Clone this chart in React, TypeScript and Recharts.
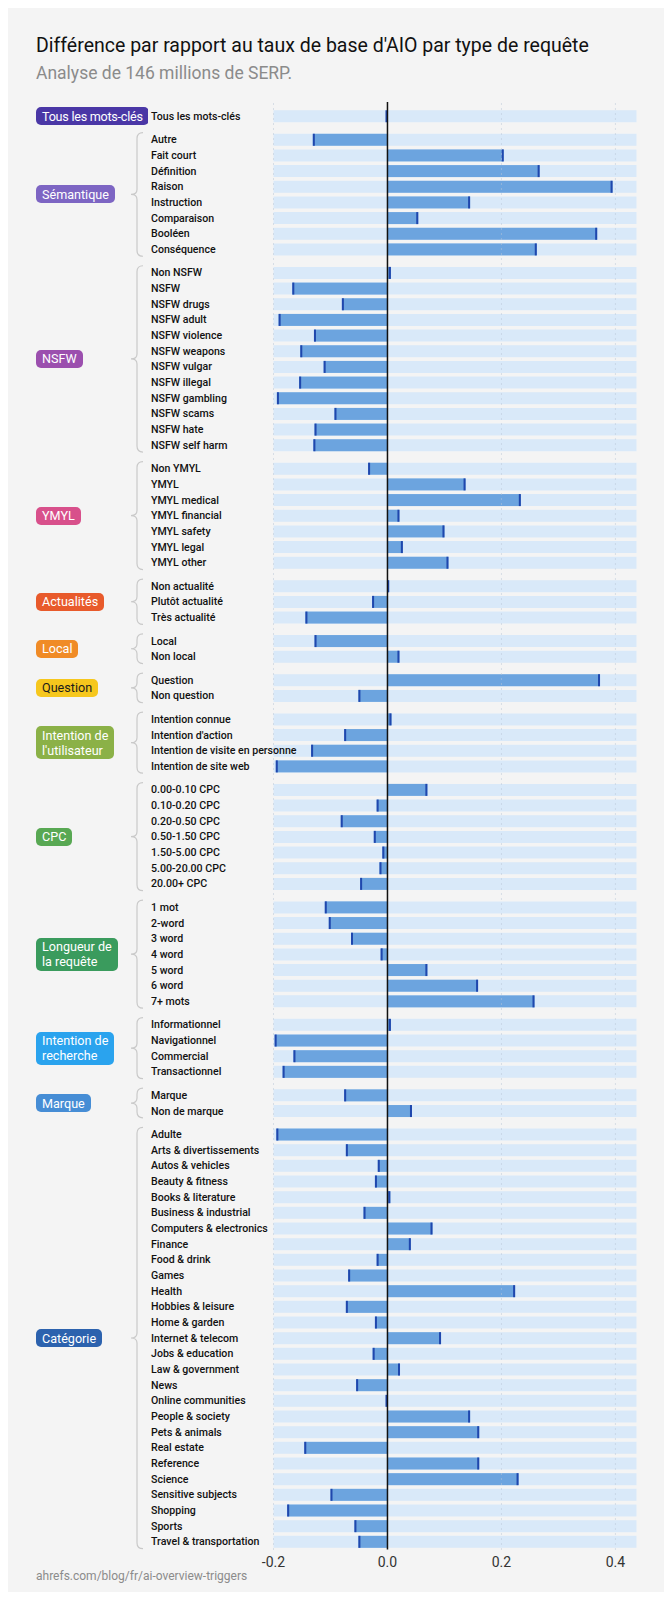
import React from 'react';
import { BarChart, Bar, XAxis, YAxis, ReferenceLine } from 'recharts';

// Row labels and values, one pair of arrays per query group
const ALL_LABELS = ['Tous les mots-clés'];
const ALL_VALUES = [0];

const SEMANTIC_LABELS = ['Autre', 'Fait court', 'Définition', 'Raison', 'Instruction', 'Comparaison', 'Booléen', 'Conséquence'];
const SEMANTIC_VALUES = [-0.131, 0.204, 0.267, 0.395, 0.145, 0.054, 0.368, 0.262];

const NSFW_LABELS = ['Non NSFW', 'NSFW', 'NSFW drugs', 'NSFW adult', 'NSFW violence', 'NSFW weapons', 'NSFW vulgar', 'NSFW illegal', 'NSFW gambling', 'NSFW scams', 'NSFW hate', 'NSFW self harm'];
const NSFW_VALUES = [0.006, -0.167, -0.08, -0.191, -0.129, -0.153, -0.112, -0.155, -0.194, -0.093, -0.128, -0.13];

const YMYL_LABELS = ['Non YMYL', 'YMYL', 'YMYL medical', 'YMYL financial', 'YMYL safety', 'YMYL legal', 'YMYL other'];
const YMYL_VALUES = [-0.034, 0.137, 0.234, 0.021, 0.1, 0.027, 0.107];

const NEWS_LABELS = ['Non actualité', 'Plutôt actualité', 'Très actualité'];
const NEWS_VALUES = [0.003, -0.027, -0.144];

const LOCAL_LABELS = ['Local', 'Non local'];
const LOCAL_VALUES = [-0.128, 0.021];

const QUESTION_LABELS = ['Question', 'Non question'];
const QUESTION_VALUES = [0.373, -0.051];

const USER_INTENT_LABELS = ['Intention connue', "Intention d'action", 'Intention de visite en personne', 'Intention de site web'];
const USER_INTENT_VALUES = [0.007, -0.076, -0.134, -0.196];

const CPC_LABELS = ['0.00-0.10 CPC', '0.10-0.20 CPC', '0.20-0.50 CPC', '0.50-1.50 CPC', '1.50-5.00 CPC', '5.00-20.00 CPC', '20.00+ CPC'];
const CPC_VALUES = [0.07, -0.019, -0.082, -0.024, -0.009, -0.014, -0.048];

const LENGTH_LABELS = ['1 mot', '2-word', '3 word', '4 word', '5 word', '6 word', '7+ mots'];
const LENGTH_VALUES = [-0.11, -0.103, -0.064, -0.012, 0.07, 0.159, 0.258];

const SEARCH_INTENT_LABELS = ['Informationnel', 'Navigationnel', 'Commercial', 'Transactionnel'];
const SEARCH_INTENT_VALUES = [0.006, -0.198, -0.165, -0.184];

const BRAND_LABELS = ['Marque', 'Non de marque'];
const BRAND_VALUES = [-0.076, 0.043];

const CATEGORY_LABELS = [
  'Adulte', 'Arts & divertissements', 'Autos & vehicles', 'Beauty & fitness', 'Books & literature',
  'Business & industrial', 'Computers & electronics', 'Finance', 'Food & drink', 'Games', 'Health',
  'Hobbies & leisure', 'Home & garden', 'Internet & telecom', 'Jobs & education', 'Law & government',
  'News', 'Online communities', 'People & society', 'Pets & animals', 'Real estate', 'Reference',
  'Science', 'Sensitive subjects', 'Shopping', 'Sports', 'Travel & transportation',
];
const CATEGORY_VALUES = [
  -0.195, -0.073, -0.017, -0.022, 0.005,
  -0.042, 0.079, 0.041, -0.019, -0.069, 0.224,
  -0.073, -0.022, 0.094, -0.026, 0.022,
  -0.055, 0, 0.145, 0.161, -0.146, 0.161,
  0.23, -0.1, -0.176, -0.058, -0.051,
];

const X_TICKS = [-0.2, 0, 0.2, 0.4];

const GROUPS = [
  { name: ['Tous les mots-clés'], color: '#4a37a6', text: '#fff', labels: ALL_LABELS, values: ALL_VALUES },
  { name: ['Sémantique'], color: '#7d65c3', text: '#fff', labels: SEMANTIC_LABELS, values: SEMANTIC_VALUES },
  { name: ['NSFW'], color: '#9b4fae', text: '#fff', labels: NSFW_LABELS, values: NSFW_VALUES },
  { name: ['YMYL'], color: '#d8508b', text: '#fff', labels: YMYL_LABELS, values: YMYL_VALUES },
  { name: ['Actualités'], color: '#e85a2b', text: '#fff', labels: NEWS_LABELS, values: NEWS_VALUES },
  { name: ['Local'], color: '#f08b26', text: '#fff', labels: LOCAL_LABELS, values: LOCAL_VALUES },
  { name: ['Question'], color: '#f6c71d', text: '#1b1b1b', labels: QUESTION_LABELS, values: QUESTION_VALUES },
  { name: ['Intention de', "l'utilisateur"], color: '#8bb147', text: '#fff', labels: USER_INTENT_LABELS, values: USER_INTENT_VALUES },
  { name: ['CPC'], color: '#58a853', text: '#fff', labels: CPC_LABELS, values: CPC_VALUES },
  { name: ['Longueur de', 'la requête'], color: '#3a9b5d', text: '#fff', labels: LENGTH_LABELS, values: LENGTH_VALUES },
  { name: ['Intention de', 'recherche'], color: '#2aa3ee', text: '#fff', labels: SEARCH_INTENT_LABELS, values: SEARCH_INTENT_VALUES },
  { name: ['Marque'], color: '#468dd5', text: '#fff', labels: BRAND_LABELS, values: BRAND_VALUES },
  { name: ['Catégorie'], color: '#2c62ae', text: '#fff', labels: CATEGORY_LABELS, values: CATEGORY_VALUES },
];

// each group is followed by a half-row gap, rows are placed on a numeric axis
type Row = { pos: number; label: string; value: number; group: number; first: boolean };
const rows: Row[] = [];
let rowIndex = 0;
GROUPS.forEach((g, gi) => {
  g.labels.forEach((label, i) => {
    rows.push({ pos: rowIndex + gi * 0.5, label, value: g.values[i], group: gi, first: i === 0 });
    rowIndex += 1;
  });
});
const ROW_BY_POS = new Map(rows.map((r) => [r.pos, r]));

const FONT = 'Roboto, "Noto Sans", sans-serif';
const WIDTH = 672;
const HEIGHT = 1600;
const Y_MIN = -0.9;
const Y_MAX = 91.5;
const MARGIN = { top: 102, right: 35.5, bottom: 20.5, left: 0 };
const X_AXIS_H = 30;
const PLOT_H = HEIGHT - MARGIN.top - MARGIN.bottom - X_AXIS_H;
const ROW_PX = PLOT_H / (Y_MAX - Y_MIN);

const BAND = '#d9e9f9';
const BAR = '#6ca4df';
const CAP = '#1f47ad';

function CappedBar(props: any) {
  const { x, y, width, height, payload } = props;
  const x0 = Math.min(x, x + width);
  const w = Math.abs(width);
  const end = payload.value >= 0 ? x0 + w - 2 : x0;
  return (
    <g>
      <rect x={x0} y={y} width={w} height={height} fill={BAR} />
      <rect x={end} y={y} width={2} height={height} fill={CAP} />
    </g>
  );
}

function RowTick(props: any) {
  const { y, payload } = props;
  const row = ROW_BY_POS.get(payload.value);
  if (!row) return null;
  const g = GROUPS[row.group];
  const n = g.labels.length;
  const lastY = y + (n - 1) * ROW_PX;
  const mid = (y + lastY) / 2;
  const top = y - 7;
  const bottom = lastY + 7;
  return (
    <g>
      <text x={151} y={y} dy="0.35em" textAnchor="start" fontSize={10.6} fontWeight={500} fill="#111" fontFamily={FONT}>
        {row.label}
      </text>
      {row.first && n > 1 && (
        <path
          d={`M143,${top} Q137,${top} 137,${top + 6} L137,${mid - 5} Q137,${mid} 131,${mid} Q137,${mid} 137,${mid + 5} L137,${bottom - 6} Q137,${bottom} 143,${bottom}`}
          fill="none"
          stroke="#c9c9c9"
          strokeWidth={1.2}
        />
      )}
      {row.first && (
        <foreignObject x={30} y={mid - 25} width={118} height={50}>
          <div style={{ display: 'flex', alignItems: 'center', height: 50, paddingLeft: 6 }}>
            <span
              style={{
                background: g.color,
                color: g.text,
                borderRadius: 5,
                padding: '1.5px 6px',
                fontSize: 12.6,
                lineHeight: '15px',
                letterSpacing: n === 1 ? -0.25 : 0,
                fontFamily: FONT,
                whiteSpace: 'pre',
              }}
            >
              {g.name.join('\n')}
            </span>
          </div>
        </foreignObject>
      )}
    </g>
  );
}

export default function App() {
  return (
    <div style={{ position: 'relative', width: WIDTH, height: HEIGHT, margin: -8, background: '#f4f4f4', fontFamily: FONT, overflow: 'hidden' }}>
      <div style={{ position: 'absolute', left: 36, top: 34, fontSize: 19.5, color: '#111', whiteSpace: 'nowrap' }}>
        Différence par rapport au taux de base d'AIO par type de requête
      </div>
      <div style={{ position: 'absolute', left: 36, top: 63, fontSize: 17.5, color: '#8b8b8b', whiteSpace: 'nowrap' }}>
        Analyse de 146 millions de SERP.
      </div>
      <div style={{ position: 'absolute', left: 0, top: 0 }}>
        <BarChart width={WIDTH} height={HEIGHT} data={rows} layout="vertical" margin={MARGIN}>
          <XAxis
            type="number"
            dataKey="value"
            domain={[-0.2, 0.437]}
            ticks={X_TICKS}
            allowDataOverflow
            axisLine={false}
            tickLine={false}
            height={X_AXIS_H}
            tickFormatter={(v: number) => v.toFixed(1)}
            tick={{ fontSize: 14, fill: '#333', fontFamily: FONT }}
          />
          <YAxis
            type="number"
            dataKey="pos"
            domain={[Y_MIN, Y_MAX]}
            ticks={rows.map((r) => r.pos)}
            interval={0}
            width={273.5}
            axisLine={false}
            tickLine={false}
            tick={<RowTick />}
          />
          <Bar
            dataKey="value"
            barSize={12}
            background={{ fill: BAND }}
            shape={<CappedBar />}
            isAnimationActive={false}
          />
          {[-0.2, 0.2, 0.4].map((v) => (
            <ReferenceLine key={v} x={v} stroke="#b9c6d6" strokeDasharray="1 4" strokeWidth={1} />
          ))}
          <ReferenceLine x={0} stroke="#111" strokeWidth={1.5} />
        </BarChart>
      </div>
      <div style={{ position: 'absolute', left: 36, top: 1569, fontSize: 12, color: '#8b8b8b', whiteSpace: 'nowrap' }}>
        ahrefs.com/blog/fr/ai-overview-triggers
      </div>
    </div>
  );
}
